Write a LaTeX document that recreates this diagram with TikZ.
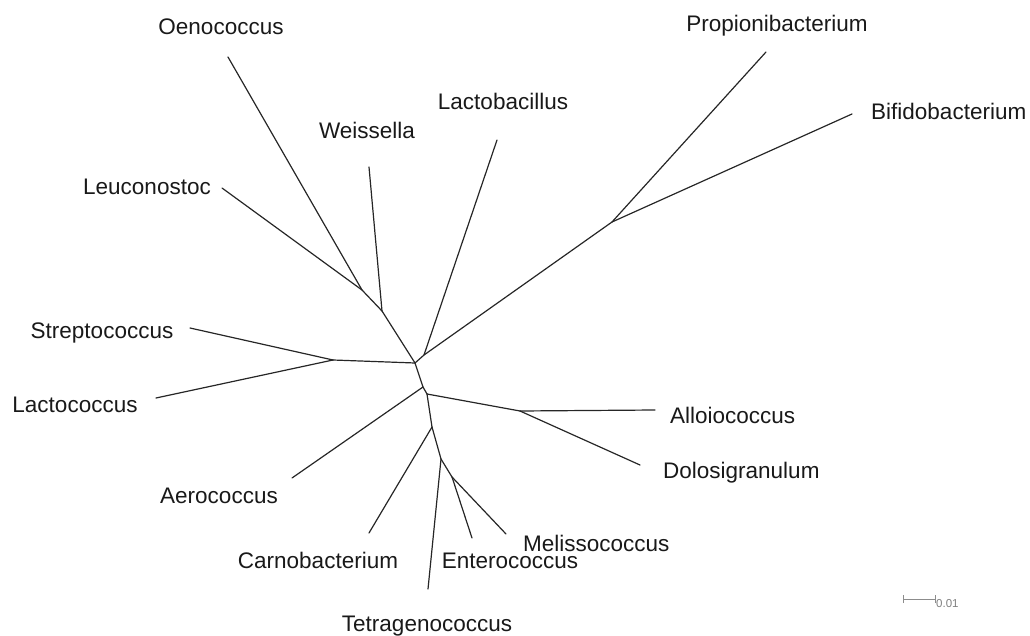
\documentclass[tikz,border=0pt]{standalone}
\usepackage{fontspec}
\setmainfont{Liberation Sans}
\begin{document}
\begin{tikzpicture}[x=1pt,y=-1pt,
  br/.style={line width=1.2pt, draw=black!85, line cap=round, line join=round},
  lab/.style={font=\fontsize{22.5}{26}\selectfont, text=black!90, inner sep=0pt, anchor=base},
  labl/.style={lab, anchor=base west},
  sc/.style={line width=0.9pt, draw=black!45},
  sclab/.style={font=\fontsize{11.5}{13}\selectfont, text=black!50, inner sep=0pt, anchor=base west}]
\useasboundingbox (0,0) rectangle (1030,636);
% internal nodes
\coordinate (A) at (362,290);
\coordinate (B) at (382,311);
\coordinate (C) at (415,363);
\coordinate (D) at (424,355);
\coordinate (P) at (612,222);
\coordinate (S) at (333,360);
\coordinate (E) at (423,387);
\coordinate (F) at (427,394);
\coordinate (J) at (520,411);
\coordinate (G) at (432,427);
\coordinate (H) at (441,459);
\coordinate (I) at (452,477);
% leaf tips
\coordinate (tOeno) at (228,57);
\coordinate (tLeuc) at (222,188);
\coordinate (tWeis) at (369,167);
\coordinate (tLacb) at (497,140);
\coordinate (tProp) at (766,52);
\coordinate (tBifi) at (852,114);
\coordinate (tStre) at (190,328);
\coordinate (tLacc) at (156,398);
\coordinate (tAero) at (292,478);
\coordinate (tAllo) at (655,410);
\coordinate (tDolo) at (640,465);
\coordinate (tCarn) at (369,533);
\coordinate (tTetr) at (428,589);
\coordinate (tEnte) at (472,538);
\coordinate (tMeli) at (506,534);
% branches
\draw[br] (tOeno) -- (A);
\draw[br] (tLeuc) -- (A);
\draw[br] (A) -- (B);
\draw[br] (tWeis) -- (B);
\draw[br] (B) -- (C);
\draw[br] (C) -- (D);
\draw[br] (tLacb) -- (D);
\draw[br] (D) -- (P);
\draw[br] (P) -- (tProp);
\draw[br] (P) -- (tBifi);
\draw[br] (tStre) -- (S);
\draw[br] (tLacc) -- (S);
\draw[br] (S) -- (C);
\draw[br] (C) -- (E);
\draw[br] (E) -- (tAero);
\draw[br] (E) -- (F);
\draw[br] (F) -- (J);
\draw[br] (J) -- (tAllo);
\draw[br] (J) -- (tDolo);
\draw[br] (F) -- (G);
\draw[br] (G) -- (tCarn);
\draw[br] (G) -- (H);
\draw[br] (H) -- (tTetr);
\draw[br] (H) -- (I);
\draw[br] (I) -- (tEnte);
\draw[br] (I) -- (tMeli);
% labels
\node[lab] (lOeno) at (221,35) {Oenococcus};
\node[lab] (lProp) at (777,32) {Propionibacterium};
\node[labl] (lBifi) at (871,120) {Bifidobacterium};
\node[lab] (lLacb) at (503,110) {Lactobacillus};
\node[lab] (lWeis) at (367,139) {Weissella};
\node[lab] (lLeuc) at (147,195) {Leuconostoc};
\node[lab] (lStre) at (102,338) {Streptococcus};
\node[lab] (lLacc) at (75,412) {Lactococcus};
\node[labl] (lAllo) at (670,423) {Alloiococcus};
\node[labl] (lDolo) at (663,478) {Dolosigranulum};
\node[lab] (lAero) at (219,503) {Aerococcus};
\node[lab] (lCarn) at (318,568) {Carnobacterium};
\node[lab] (lEnte) at (510,568) {Enterococcus};
\node[labl] (lMeli) at (523,551) {Melissococcus};
\node[lab] (lTetr) at (427,631) {Tetragenococcus};
% scale bar
\coordinate (s1) at (903,599);
\coordinate (s2) at (935,599);
\draw[sc] (s1) -- (s2);
\draw[sc] ([yshift=-4]s1) -- ([yshift=4]s1);
\draw[sc] ([yshift=-4]s2) -- ([yshift=4]s2);
\node[sclab] (sl) at (936,607) {0.01};
\end{tikzpicture}
\end{document}
